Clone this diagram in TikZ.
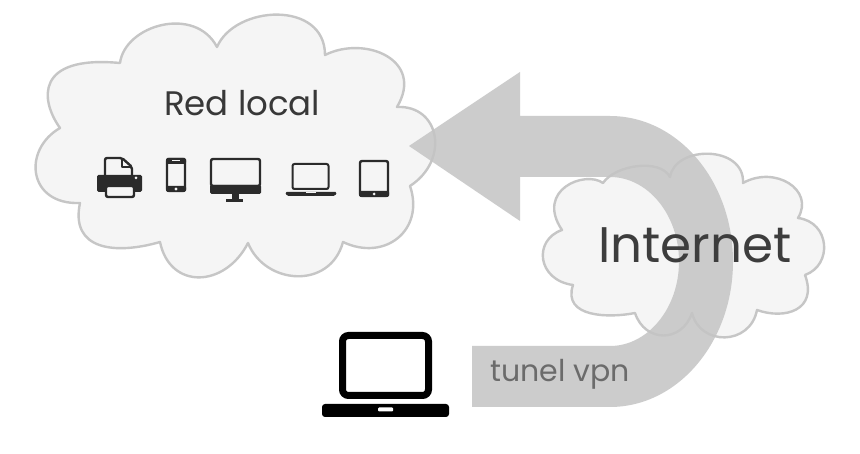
\documentclass[tikz,border=0pt]{standalone}
\usepackage{fontspec}
\setmainfont{Poppins}
\definecolor{cloudfill}{HTML}{F5F5F5}
\definecolor{cloudline}{HTML}{C6C6C6}
\definecolor{tunnel}{HTML}{C4C4C4}
\definecolor{icon}{HTML}{2B2B2B}
\tikzset{
  cloudshape/.style={fill=cloudfill,draw=cloudline,line width=2.4pt,line join=round},
  tunnelshape/.style={fill=tunnel,fill opacity=.85},
  iconline/.style={draw=icon,line width=2.4pt,rounded corners=2pt,fill=cloudfill},
  iconfill/.style={fill=icon,rounded corners=1.5pt},
  label/.style={inner sep=0pt,anchor=base west}
}
\begin{document}
\begin{tikzpicture}[x=1pt,y=-1pt]
\useasboundingbox (0,0) rectangle (860,454);
\fill[white] (0,0) rectangle (860,454);
% Red local cloud
\draw[cloudshape] (60,128) .. controls (40,100) and (35,55) .. (120,63)
 .. controls (125,25) and (195,5) .. (217,47)
 .. controls (235,5) and (325,0) .. (325,55)
 .. controls (365,35) and (425,60) .. (397,107)
 .. controls (440,105) and (450,160) .. (410,186)
 .. controls (425,230) and (385,262) .. (343,242)
 .. controls (330,290) and (265,285) .. (248,243)
 .. controls (225,288) and (170,290) .. (160,242)
 .. controls (115,255) and (70,250) .. (80,203)
 .. controls (28,205) and (22,150) .. (60,128) -- cycle;
% Internet cloud
\draw[cloudshape] (603,183) .. controls (615,165) and (660,158) .. (670,177)
 .. controls (675,145) and (745,145) .. (743,183)
 .. controls (775,165) and (815,190) .. (798,218)
 .. controls (830,222) and (833,265) .. (805,275)
 .. controls (818,310) and (785,320) .. (757,310)
 .. controls (750,346) and (700,346) .. (692,313)
 .. controls (682,343) and (645,343) .. (635,313)
 .. controls (610,318) and (562,318) .. (573,285)
 .. controls (537,280) and (533,240) .. (562,230)
 .. controls (535,190) and (585,170) .. (603,183) -- cycle;
% Tunnel arrow
\fill[tunnelshape] (409,146) -- (520,72) -- (520,116) -- (610,116)
 .. controls (678,116) and (733,181) .. (733,261.5)
 .. controls (733,342) and (678,407) .. (610,407)
 -- (472,407) -- (472,346) -- (610,346)
 .. controls (648,346) and (679,308) .. (679,261.5)
 .. controls (679,215) and (648,177) .. (610,177)
 -- (520,177) -- (520,221) -- cycle;
% Texts
\node[label,text=black!78,font=\fontsize{34}{34}\selectfont] (redlocal) at (164,116) {Red local};
\node[label,text=black!76,font=\fontsize{50}{50}\selectfont] (internet) at (598,263) {Internet};
\node[label,text=black!58,font=\fontsize{30}{30}\selectfont] (vpn) at (490,382) {tunel vpn};
% Printer
\draw[iconline] (105,178) -- (105,158) -- (122,158) -- (132,167) -- (132,178);
\draw[icon,line width=1.4pt,line join=round] (122,158) -- (122,167) -- (132,167);
\fill[iconfill] (97,175) rectangle (142,192);
\draw[iconline] (106,186) rectangle (134,197);
\fill[cloudfill] (136,178) circle (1.5);
% Phone
\draw[iconline] (167,159) rectangle (185,191);
\fill[iconfill] (166,158) rectangle (186,164);
\fill[iconfill] (166,186) rectangle (186,192);
\fill[cloudfill] (176,189) circle (1.6);
\fill[cloudfill] (172,160.4) rectangle (180,161.4);
% Monitor
\draw[iconline] (211,159) rectangle (260,186);
\fill[iconfill] (210,185) rectangle (261,194);
\fill[icon] (232,193) rectangle (239,199);
\fill[icon] (226,199) rectangle (243,202);
% Small laptop
\draw[icon,line width=2pt,rounded corners=2pt] (292.5,164) rectangle (328.5,189);
\fill[iconfill] (285,192) -- (337,192) -- (335,196) -- (287,196) -- cycle;
\fill[cloudfill] (306,192.4) rectangle (316,193.4);
% Tablet
\draw[iconline] (360,161) rectangle (388,196);
\fill[iconfill] (359,191) rectangle (389,197);
\fill[cloudfill] (374,194) circle (1.5);
% Big laptop
\draw[black,line width=7pt,rounded corners=6pt] (342.5,335.5) rectangle (428.5,395.5);
\fill[black,rounded corners=3pt] (322,404) -- (449,404) -- (449,417) -- (322,417) -- cycle;
\fill[white,rounded corners=1pt] (378,407.5) rectangle (393,411.5);
\end{tikzpicture}
\end{document}
